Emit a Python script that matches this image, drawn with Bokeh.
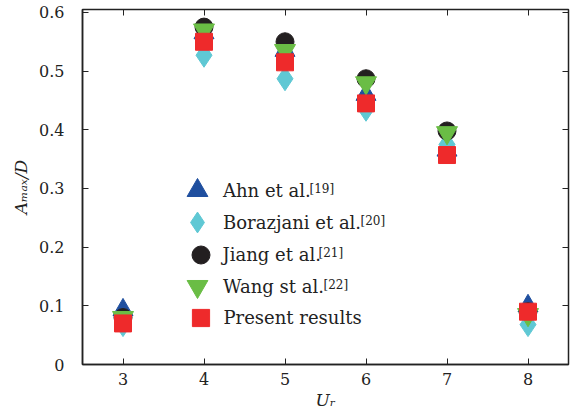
from bokeh.plotting import figure
from bokeh.models import LinearAxis, Range1d, Legend, LegendItem, FixedTicker, Label
from bokeh.embed import file_html
from bokeh.resources import INLINE

ur = [3, 4, 5, 6, 7, 8]
ahn = [0.093, 0.565, 0.535, 0.460, 0.365, 0.100]
borazjani = [0.068, 0.527, 0.487, 0.435, 0.375, 0.068]
jiang = [0.080, 0.575, 0.550, 0.487, 0.398, 0.090]
wang = [0.080, 0.570, 0.535, 0.480, 0.395, 0.085]
present = [0.070, 0.550, 0.515, 0.445, 0.357, 0.090]

labels = ["Ahn et al.", "Borazjani et al.", "Jiang et al.",
          "Wang st al.", "Present results"]
refs = ["[19]", "[20]", "[21]", "[22]", ""]
xticks = [3, 4, 5, 6, 7, 8]
yticks = [0, 0.1, 0.2, 0.3, 0.4, 0.5, 0.6]

FONT = "DejaVu Serif"
INK = "#222222"

p = figure(width=577, height=412, output_backend="svg", toolbar_location=None,
           x_range=Range1d(2.5, 8.5), y_range=Range1d(0, 0.605),
           min_border_left=82, min_border_right=9, min_border_top=9,
           min_border_bottom=47)
p.grid.visible = False
p.outline_line_color = INK
p.outline_line_width = 1.5

for ax in (p.xaxis[0], p.yaxis[0]):
    ax.major_tick_in = 6
    ax.major_tick_out = 0
    ax.minor_tick_line_color = None
    ax.axis_line_color = INK
    ax.axis_line_width = 1.5
    ax.major_tick_line_color = INK
    ax.major_label_text_font = FONT
    ax.major_label_text_font_size = "16px"
    ax.major_label_text_color = INK
    ax.axis_label_text_font = FONT
    ax.axis_label_text_font_style = "italic"
    ax.axis_label_text_font_size = "17px"
    ax.axis_label_text_color = INK

p.xaxis[0].ticker = FixedTicker(ticks=xticks)
p.yaxis[0].ticker = FixedTicker(ticks=yticks)
p.yaxis[0].major_label_overrides = {0: "0"}
p.xaxis[0].axis_label = "Uᵣ"
p.yaxis[0].axis_label = "Aₘₐₓ/D"
p.xaxis[0].axis_label_standoff = 2
p.yaxis[0].axis_label_standoff = 5
p.xaxis[0].major_label_standoff = 8
p.yaxis[0].major_label_standoff = 18

top = LinearAxis(ticker=FixedTicker(ticks=xticks),
                 major_label_overrides={t: "" for t in xticks},
                 major_tick_in=6, major_tick_out=0, minor_tick_line_color=None,
                 axis_line_color=None, major_tick_line_color=INK)
right = LinearAxis(ticker=FixedTicker(ticks=yticks),
                   major_label_overrides={t: "" for t in yticks},
                   major_tick_in=6, major_tick_out=0, minor_tick_line_color=None,
                   axis_line_color=None, major_tick_line_color=INK)
p.add_layout(top, "above")
p.add_layout(right, "right")

r1 = p.scatter(ur, ahn, marker="triangle", size=20, color="#1f4f9f")
r2 = p.scatter(ur, borazjani, marker="diamond", size=24, color="#5fc8d4")
r3 = p.scatter(ur, jiang, marker="circle", size=18, color="#231f20")
r4 = p.scatter(ur, wang, marker="inverted_triangle", size=21, color="#6abd45")
r5 = p.scatter(ur, present, marker="square", size=17, color="#ee2a2b")
renderers = [r1, r2, r3, r4, r5]

# legend: one Legend per entry so that legend markers can be larger than row pitch
glyph_boxes = [52, 52, 45, 52, 43]
row_centers = [174, 142, 110, 78, 47]     # frame-relative, from bottom
marker_cx = 118                          # frame-relative x of legend markers
text_x0 = 141                            # frame-relative x where labels start
sup_x = [227, 278, 236, 241]             # frame-relative x of the superscripts

for i, (lab, r) in enumerate(zip(labels, renderers)):
    g = glyph_boxes[i]
    lx = min(marker_cx - g / 2, text_x0 - g)
    leg = Legend(items=[LegendItem(label=lab, renderers=[r])],
                 location=(lx, row_centers[i] - g / 2), padding=0, margin=0,
                 spacing=0, glyph_width=g, glyph_height=g, label_height=g,
                 label_standoff=max(0, int(round(text_x0 - lx - g))),
                 border_line_color=None, background_fill_alpha=0,
                 label_text_font=FONT, label_text_font_size="18px",
                 label_text_color=INK)
    p.add_layout(leg, "center")

for i, s in enumerate(refs):
    if s:
        p.add_layout(Label(x=sup_x[i], y=row_centers[i] + 2, x_units="screen",
                           y_units="screen", text=s, text_font=FONT,
                           text_font_size="12px", text_color=INK,
                           text_baseline="middle"))

open("out.html", "w").write(file_html(p, INLINE))
